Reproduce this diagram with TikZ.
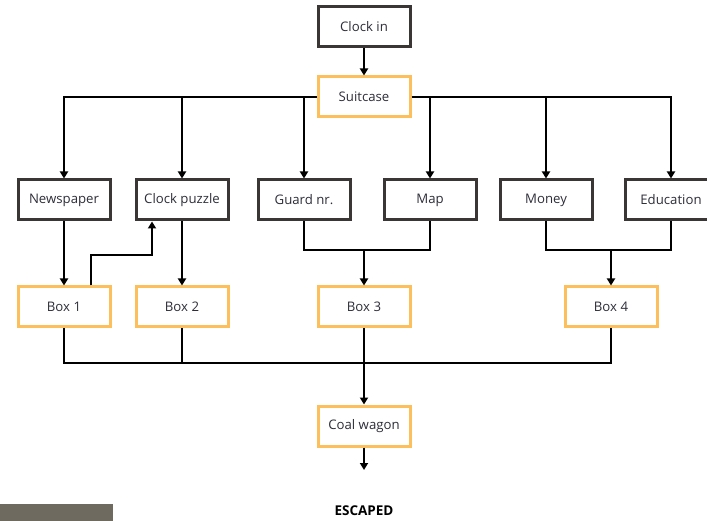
\documentclass[tikz,border=0pt]{standalone}
\usepackage{fontspec}
\setmainfont{Open Sans}
\usetikzlibrary{arrows.meta}
\definecolor{darkbox}{HTML}{3A3636}
\definecolor{orangebox}{HTML}{FDBF5C}
\definecolor{txt}{HTML}{2E2E3A}
\definecolor{photo}{HTML}{6E6A60}
\tikzset{
  base/.style={draw, line width=3pt, fill=white, inner sep=0pt, minimum width=92pt, minimum height=40pt, font=\fontsize{13.2}{15}\selectfont, text=txt},
  darkb/.style={base, draw=darkbox},
  orangeb/.style={base, draw=orangebox},
  conn/.style={line width=2.4pt, black},
  arr/.style={conn, -{Triangle[length=7pt,width=8pt]}},
}
\begin{document}
\begin{tikzpicture}[x=1pt,y=-1pt]
\useasboundingbox (0,0) rectangle (707,521);
\fill[white] (0,0) rectangle (707,521);
% photo fragment
\fill[photo] (0,504) rectangle (113,521);
\clip (0,0) rectangle (707,521);

\node[darkb] (clock) at (364,27) {Clock in};
\node[orangeb] (suit) at (364,97) {Suitcase};

\node[darkb] (news) at (64,200) {Newspaper};
\node[darkb] (cp) at (182,200) {Clock puzzle};
\node[darkb] (guard) at (304,200) {Guard nr.};
\node[darkb] (map) at (430,200) {Map};
\node[darkb] (money) at (546,200) {Money};
\node[darkb] (edu) at (671,200) {Education};

\node[orangeb] (b1) at (64,307) {Box 1};
\node[orangeb] (b2) at (182,307) {Box 2};
\node[orangeb] (b3) at (364,307) {Box 3};
\node[orangeb] (b4) at (611,307) {Box 4};

\node[orangeb] (coal) at (364,426) {Coal wagon};
\node[font=\fontsize{13.5}{15}\selectfont\bfseries, text=black] (esc) at (364,511) {ESCAPED};

\coordinate (hub3) at (364,250);
\coordinate (hub4) at (611,250);
\coordinate (loop) at (91,255);
\coordinate (bus) at (364,363);

% top
\draw[arr] (clock) -- (suit);
\draw[arr] (suit.west) -| (news.north);
\draw[arr] (suit.west -| cp.north) -- (cp.north);
\draw[arr] (suit.west -| guard.north) -- (guard.north);
\draw[arr] (suit.east) -| (edu.north);
\draw[arr] (suit.east -| map.north) -- (map.north);
\draw[arr] (suit.east -| money.north) -- (money.north);

% row 2 to row 3
\draw[arr] (news) -- (b1);
\draw[arr] (cp) -- (b2);
\draw[arr] (b1.north -| loop) -- (loop) -| ([xshift=-30pt]cp.south);
\draw[conn] (guard.south) |- (hub3) -| (map.south);
\draw[arr] (hub3) -- (b3);
\draw[conn] (money.south) |- (hub4) -| (edu.south);
\draw[arr] (hub4) -- (b4);

% bottom bus
\draw[conn] (b1.south) |- (bus) -| (b4.south);
\draw[conn] (b2.south) -- (b2.south |- bus);
\draw[arr] (b3) -- (coal);
\draw[arr] (coal) -- (364,470);
\end{tikzpicture}
\end{document}
